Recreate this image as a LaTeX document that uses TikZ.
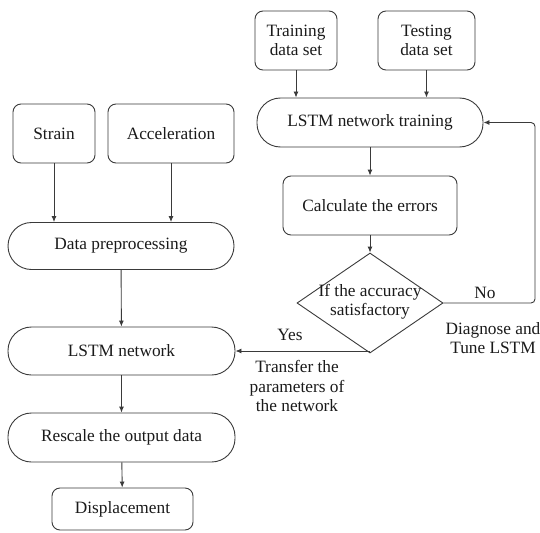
\documentclass[tikz,border=0pt]{standalone}
\usepackage{fontspec}
\setmainfont{Liberation Serif}
\newfontfamily\tnr{Liberation Serif}
\usetikzlibrary{arrows.meta,shapes.geometric}
\definecolor{ln}{HTML}{3A3A3A}
\definecolor{tx}{HTML}{1A1A1A}
\tikzset{
  every node/.style={font=\tnr\fontsize{17.3}{19.5}\selectfont, text=tx},
  box/.style={draw=ln, line width=0.9pt, rounded corners=8pt, inner sep=0pt, align=center},
  pill/.style={draw=ln, line width=0.9pt, rounded corners=23.5pt, inner sep=0pt, align=center},
  arr/.style={draw=ln, line width=0.9pt, -{Latex[length=6pt,width=5pt]}},
  lbl/.style={align=center, inner sep=0pt}
}
\begin{document}
\begin{tikzpicture}[x=1pt,y=-1pt]
\useasboundingbox (0,0) rectangle (540,532);
% left column
\node[box, minimum width=82pt, minimum height=59pt] (strain) at (54,133.5) {Strain};
\node[box, minimum width=126pt, minimum height=59pt] (acc) at (171,133.5) {Acceleration};
\node[pill, minimum width=226pt, minimum height=47pt] (prep) at (121,246) {Data preprocessing};
\node[pill, minimum width=227pt, minimum height=48pt] (lstm) at (121.5,351) {LSTM network};
\node[pill, minimum width=227pt, minimum height=49pt] (resc) at (121.5,437.5) {Rescale the output data};
\node[box, minimum width=141pt, minimum height=42pt] (disp) at (122.5,509) {Displacement};
% right column
\node[box, minimum width=82pt, minimum height=59pt] (train) at (296,40.5) {Training\\data set};
\node[box, minimum width=97pt, minimum height=59pt] (test) at (426.5,40.5) {Testing\\data set};
\node[pill, minimum width=226pt, minimum height=49pt] (lt) at (370,122.5) {LSTM network training};
\node[box, minimum width=174pt, minimum height=59pt] (calc) at (370,205.5) {Calculate the errors};
\node[diamond, draw=ln, line width=0.9pt, inner sep=0pt, minimum width=146pt, minimum height=100pt] (dia) at (370,303) {};
\node[lbl] (diat) at (370,302) {If the accuracy\\satisfactory};
\coordinate (cr) at (535,303);
% connectors
\draw[arr] (strain) -- (prep.north -| strain);
\draw[arr] (acc) -- (prep.north -| acc);
\draw[arr] (prep) -- (lstm);
\draw[arr] (lstm) -- (resc);
\draw[arr] (resc) -- (disp);
\draw[arr] (train) -- (lt.north -| train);
\draw[arr] (test) -- (lt.north -| test);
\draw[arr] (lt) -- (calc);
\draw[arr] (calc) -- (dia);
\draw[arr, rounded corners=4pt] (dia.east) -- (cr) |- (lt.east);
\draw[arr] (dia.south |- lstm.east) -- (lstm.east);
% labels
\node[lbl] (no) at (485,293) {No};
\node[lbl] (diag) at (493,338) {Diagnose and\\Tune LSTM};
\node[lbl] (yes) at (290,335) {Yes};
\node[lbl] (trans) at (297,386) {Transfer the\\parameters of\\the network};
\end{tikzpicture}
\end{document}
